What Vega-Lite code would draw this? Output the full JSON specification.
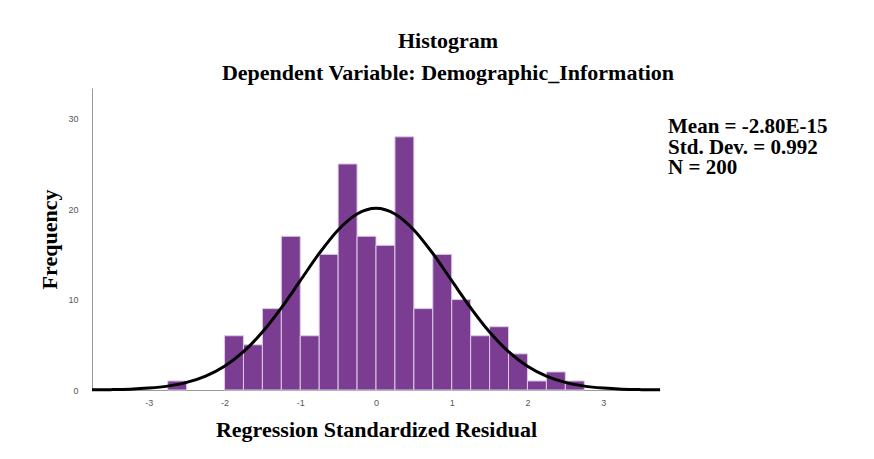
{
  "$schema": "https://vega.github.io/schema/vega-lite/v6.json",
  "autosize": {"type": "none"},
  "width": 568,
  "height": 302,
  "padding": {"left": 92, "top": 88, "right": 214, "bottom": 69},
  "background": "white",
  "config": {"view": {"stroke": null}},
  "title": {
    "text": "Histogram",
    "subtitle": "Dependent Variable: Demographic_Information",
    "font": "Liberation Serif",
    "fontSize": 22,
    "fontWeight": "bold",
    "color": "#000000",
    "subtitleFont": "Liberation Serif",
    "subtitleFontSize": 22,
    "subtitleFontWeight": "bold",
    "subtitleColor": "#000000",
    "subtitlePadding": 10,
    "anchor": "middle",
    "dx": 72,
    "offset": 3
  },
  "datasets": {
    "bins": [
      {"bin_start": -2.75, "bin_end": -2.5, "count": 1},
      {"bin_start": -2.0, "bin_end": -1.75, "count": 6},
      {"bin_start": -1.75, "bin_end": -1.5, "count": 5},
      {"bin_start": -1.5, "bin_end": -1.25, "count": 9},
      {"bin_start": -1.25, "bin_end": -1.0, "count": 17},
      {"bin_start": -1.0, "bin_end": -0.75, "count": 6},
      {"bin_start": -0.75, "bin_end": -0.5, "count": 15},
      {"bin_start": -0.5, "bin_end": -0.25, "count": 25},
      {"bin_start": -0.25, "bin_end": 0.0, "count": 17},
      {"bin_start": 0.0, "bin_end": 0.25, "count": 16},
      {"bin_start": 0.25, "bin_end": 0.5, "count": 28},
      {"bin_start": 0.5, "bin_end": 0.75, "count": 9},
      {"bin_start": 0.75, "bin_end": 1.0, "count": 15},
      {"bin_start": 1.0, "bin_end": 1.25, "count": 10},
      {"bin_start": 1.25, "bin_end": 1.5, "count": 6},
      {"bin_start": 1.5, "bin_end": 1.75, "count": 7},
      {"bin_start": 1.75, "bin_end": 2.0, "count": 4},
      {"bin_start": 2.0, "bin_end": 2.25, "count": 1},
      {"bin_start": 2.25, "bin_end": 2.5, "count": 2},
      {"bin_start": 2.5, "bin_end": 2.75, "count": 1}
    ],
    "curve": [
      {"x": -3.75, "y": 0.02}, {"x": -3.5, "y": 0.04}, {"x": -3.25, "y": 0.09},
      {"x": -3.0, "y": 0.21}, {"x": -2.75, "y": 0.43}, {"x": -2.5, "y": 0.84},
      {"x": -2.25, "y": 1.54}, {"x": -2.0, "y": 2.63}, {"x": -1.75, "y": 4.24},
      {"x": -1.5, "y": 6.41}, {"x": -1.25, "y": 9.09}, {"x": -1.0, "y": 12.09},
      {"x": -0.75, "y": 15.1}, {"x": -0.5, "y": 17.7}, {"x": -0.25, "y": 19.47},
      {"x": 0.0, "y": 20.1}, {"x": 0.25, "y": 19.47}, {"x": 0.5, "y": 17.7},
      {"x": 0.75, "y": 15.1}, {"x": 1.0, "y": 12.09}, {"x": 1.25, "y": 9.09},
      {"x": 1.5, "y": 6.41}, {"x": 1.75, "y": 4.24}, {"x": 2.0, "y": 2.63},
      {"x": 2.25, "y": 1.54}, {"x": 2.5, "y": 0.84}, {"x": 2.75, "y": 0.43},
      {"x": 3.0, "y": 0.21}, {"x": 3.25, "y": 0.09}, {"x": 3.5, "y": 0.04},
      {"x": 3.75, "y": 0.02}
    ],
    "stats": [
      {"label": "Mean = -2.80E-15\nStd. Dev. = 0.992\nN = 200"}
    ]
  },
  "layer": [
    {
      "data": {"name": "bins"},
      "mark": {"type": "bar", "color": "#7b3d91", "stroke": "#dccbe6", "strokeWidth": 1},
      "encoding": {
        "x": {
          "field": "bin_start", "type": "quantitative",
          "scale": {"domain": [-3.75, 3.75], "nice": false, "zero": false},
          "axis": {
            "title": "Regression Standardized Residual",
            "titleFont": "Liberation Serif", "titleFontSize": 22, "titleFontWeight": "bold", "titleColor": "#000000",
            "titlePadding": 12,
            "values": [-3, -2, -1, 0, 1, 2, 3],
            "labelExpr": "replace(format(datum.value, 'd'), '\u2212', '-')",
            "labelFont": "Liberation Sans", "labelFontSize": 9, "labelColor": "#555555",
            "labelPadding": 8,
            "ticks": false, "grid": false,
            "domainColor": "#999999", "domainWidth": 1
          }
        },
        "x2": {"field": "bin_end"},
        "y": {
          "field": "count", "type": "quantitative",
          "scale": {"domain": [0, 33.4], "nice": false},
          "axis": {
            "title": "Frequency",
            "titleFont": "Liberation Serif", "titleFontSize": 22, "titleFontWeight": "bold", "titleColor": "#000000",
            "titlePadding": 6,
            "values": [0, 10, 20, 30],
            "format": "d",
            "labelFont": "Liberation Sans", "labelFontSize": 9, "labelColor": "#555555",
            "labelPadding": 14,
            "ticks": false, "grid": false,
            "domainColor": "#999999", "domainWidth": 1
          }
        },
        "y2": {"datum": 0}
      }
    },
    {
      "data": {"name": "curve"},
      "mark": {"type": "line", "color": "#000000", "strokeWidth": 3, "interpolate": "monotone"},
      "encoding": {
        "x": {"field": "x", "type": "quantitative"},
        "y": {"field": "y", "type": "quantitative"}
      }
    },
    {
      "data": {"name": "stats"},
      "mark": {
        "type": "text", "align": "left", "baseline": "alphabetic",
        "font": "Liberation Serif", "fontSize": 21, "fontWeight": "bold",
        "lineBreak": "\n", "lineHeight": 20.5, "color": "#000000"
      },
      "encoding": {
        "x": {"datum": 3.856, "type": "quantitative"},
        "y": {"datum": 28.4, "type": "quantitative"},
        "text": {"field": "label"}
      }
    }
  ]
}
